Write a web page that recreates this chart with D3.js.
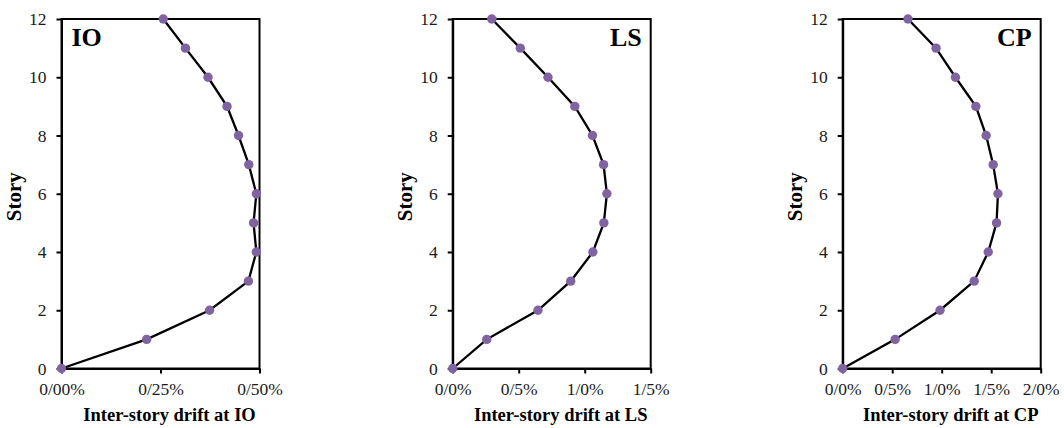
<!DOCTYPE html>
<html>
<head>
<meta charset="utf-8">
<script src="https://cdn.jsdelivr.net/npm/d3@7"></script>
<style>
  body { margin: 0; background: #fff; }
  .tick text { font-family: "Liberation Serif", "Times New Roman", serif; font-size: 17.5px; fill: #1a1a1a; }
  .axis-title { font-family: "Liberation Serif", "Times New Roman", serif; font-weight: bold; fill: #000; }
</style>
</head>
<body>
<div id="chart-area"></div>
<script>
// story levels (y)
const stories = [0, 1, 2, 3, 4, 5, 6, 7, 8, 9, 10, 11, 12]
// inter-story drift in percent
const driftIO = [0, 0.215, 0.374, 0.472, 0.492, 0.485, 0.492, 0.473, 0.447, 0.418, 0.370, 0.313, 0.257]
const driftLS = [0, 0.258, 0.646, 0.894, 1.062, 1.145, 1.168, 1.143, 1.059, 0.925, 0.722, 0.512, 0.296]
const driftCP = [0, 0.530, 0.983, 1.328, 1.470, 1.554, 1.568, 1.520, 1.449, 1.345, 1.139, 0.943, 0.659]

const storyTicks = [0, 2, 4, 6, 8, 10, 12]
const ticksIO = [0, 0.25, 0.5]
const ticksLS = [0, 0.5, 1.0, 1.5]
const ticksCP = [0, 0.5, 1.0, 1.5, 2.0]

const panels = [
  { name: "IO", values: driftIO, ticks: ticksIO, decimals: 2, left: 61.5, labelSide: "left" },
  { name: "LS", values: driftLS, ticks: ticksLS, decimals: 1, left: 452.7, labelSide: "right" },
  { name: "CP", values: driftCP, ticks: ticksCP, decimals: 1, left: 842.7, labelSide: "right" }
]

const TOP = 19
const WIDTH = 198
const HEIGHT = 349.5

const svg = d3.select("#chart-area").append("svg")
  .attr("width", 1064)
  .attr("height", 428)

panels.forEach(p => {
  const g = svg.append("g")
    .attr("transform", `translate(${p.left}, ${TOP})`)

  const x = d3.scaleLinear()
    .domain([0, d3.max(p.ticks)])
    .range([0, WIDTH])

  const y = d3.scaleLinear()
    .domain([0, 12])
    .range([HEIGHT, 0])

  // plot frame
  g.append("rect")
    .attr("width", WIDTH)
    .attr("height", HEIGHT)
    .attr("fill", "none")
    .attr("stroke", "#000")
    .attr("stroke-width", 2)

  const fmt = d3.format("." + p.decimals + "f")
  const xAxisCall = d3.axisBottom(x)
    .tickValues(p.ticks)
    .tickSize(5)
    .tickSizeOuter(0)
    .tickPadding(9)
    .tickFormat(d => fmt(d).replace(".", "/") + "%")
  g.append("g")
    .attr("class", "x-axis")
    .attr("transform", `translate(0, ${HEIGHT})`)
    .call(xAxisCall)
    .call(a => a.selectAll("path, line").attr("stroke", "#000").attr("stroke-width", 2))

  const yAxisCall = d3.axisLeft(y)
    .tickValues(storyTicks)
    .tickSize(5)
    .tickSizeOuter(0)
    .tickPadding(10)
  g.append("g")
    .attr("class", "y-axis")
    .call(yAxisCall)
    .call(a => a.selectAll("path, line").attr("stroke", "#000").attr("stroke-width", 2))

  // X label
  g.append("text")
    .attr("class", "axis-title")
    .attr("x", WIDTH / 2 + 9)
    .attr("y", HEIGHT + 52)
    .attr("font-size", "18.5px")
    .attr("text-anchor", "middle")
    .text("Inter-story drift at " + p.name)

  // Y label
  g.append("text")
    .attr("class", "axis-title")
    .attr("x", -(HEIGHT / 2) - 3)
    .attr("y", -40.5)
    .attr("font-size", "21px")
    .attr("text-anchor", "middle")
    .attr("transform", "rotate(-90)")
    .text("Story")

  // panel tag
  g.append("text")
    .attr("class", "axis-title")
    .attr("x", p.labelSide === "left" ? 10 : WIDTH - 9)
    .attr("y", 27)
    .attr("font-size", "26px")
    .attr("text-anchor", p.labelSide === "left" ? "start" : "end")
    .text(p.name)

  const pts = stories.map((s, i) => ({ story: s, drift: p.values[i] }))

  const line = d3.line()
    .x(d => x(d.drift))
    .y(d => y(d.story))

  g.append("path")
    .datum(pts)
    .attr("d", line)
    .attr("fill", "none")
    .attr("stroke", "#000")
    .attr("stroke-width", 2.3)

  g.selectAll("circle")
    .data(pts)
    .enter().append("circle")
    .attr("cx", d => x(d.drift))
    .attr("cy", d => y(d.story))
    .attr("r", 4.7)
    .attr("fill", "#8064a2")
})
</script>
</body>
</html>
